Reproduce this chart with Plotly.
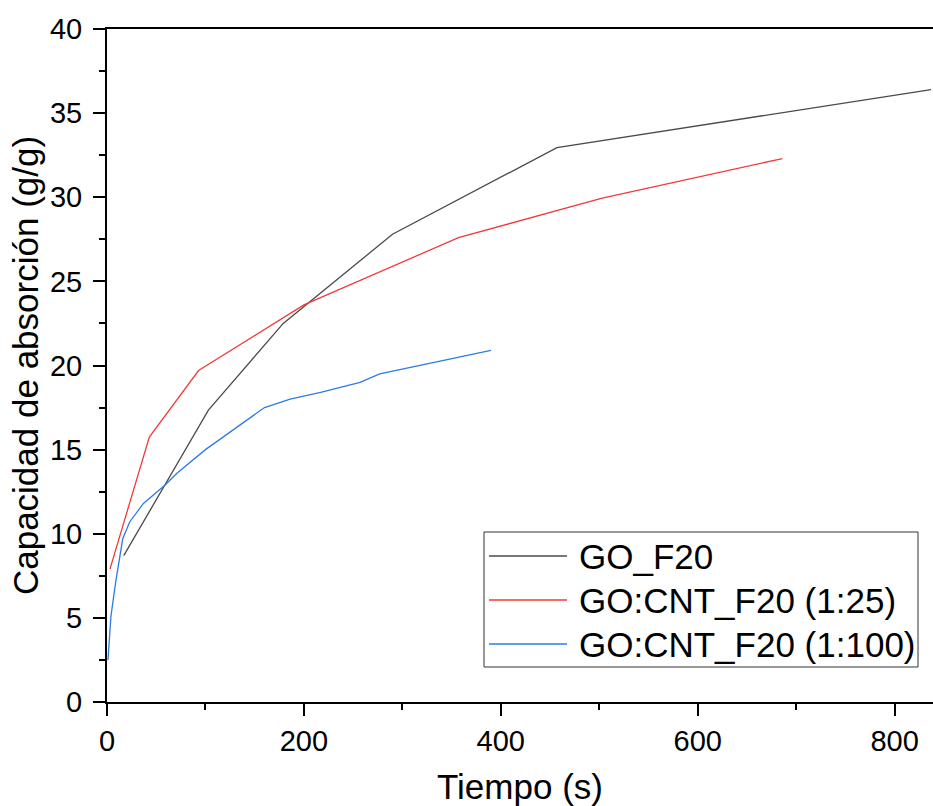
import plotly.graph_objects as go

# Data
go_f20_t = [17, 103, 179, 290, 457, 837]
go_f20_q = [8.7, 17.35, 22.5, 27.8, 32.95, 36.4]

cnt25_t = [3, 43, 93, 200, 357, 503, 686]
cnt25_q = [7.9, 15.75, 19.7, 23.6, 27.6, 29.95, 32.3]

cnt100_t = [1, 4, 9, 16, 23, 37, 59, 71, 100, 160, 186, 217, 257, 277, 390]
cnt100_q = [2.5, 5.1, 7.2, 9.7, 10.7, 11.8, 12.9, 13.6, 15.0, 17.5, 18.0, 18.4, 19.0, 19.5, 20.9]

names = ["GO_F20", "GO:CNT_F20 (1:25)", "GO:CNT_F20 (1:100)"]
colors = ["#4a4a4a", "#f23a3a", "#2f7be6"]
series = [(go_f20_t, go_f20_q), (cnt25_t, cnt25_q), (cnt100_t, cnt100_q)]

W, H = 933, 806
ML, MR, MT, MB = 107, 0, 29, 104
PW, PH = W - ML - MR, H - MT - MB

def px(x):
    return (x - ML) / PW

def py(y):
    return (H - MB - y) / PH

FONT = "Liberation Sans, Arial, sans-serif"

fig = go.Figure()
for (t, q), n, c in zip(series, names, colors):
    fig.add_trace(go.Scatter(x=t, y=q, mode="lines", name=n,
                             line=dict(color=c, width=1.3), showlegend=False))

# manual legend (box, line samples, labels)
shapes = [dict(type="rect", xref="paper", yref="paper",
               x0=px(484), x1=px(918), y0=py(667), y1=py(532),
               line=dict(color="#333333", width=1), fillcolor="white", layer="above")]
annotations = []
rows = [556, 600, 644]
for n, c, r in zip(names, colors, rows):
    shapes.append(dict(type="line", xref="paper", yref="paper",
                       x0=px(489), x1=px(567), y0=py(r), y1=py(r),
                       line=dict(color=c, width=1.3), layer="above"))
    annotations.append(dict(xref="paper", yref="paper", x=px(577), y=py(r),
                            xanchor="left", yanchor="middle", showarrow=False,
                            text=n, font=dict(family=FONT, size=35, color="black")))

fig.update_layout(
    width=W, height=H,
    margin=dict(l=ML, r=MR, t=MT, b=MB),
    paper_bgcolor="white", plot_bgcolor="white",
    font=dict(family=FONT, color="black"),
    shapes=shapes, annotations=annotations,
    xaxis=dict(range=[0, 839], dtick=200, tick0=0, showgrid=False, zeroline=False,
               showline=True, linecolor="black", linewidth=2, mirror=True,
               ticks="outside", ticklen=12, tickwidth=2, tickcolor="black",
               minor=dict(dtick=100, ticks="outside", ticklen=6, tickwidth=2, tickcolor="black"),
               tickfont=dict(size=29), ticklabelstandoff=0,
               title=dict(text="Tiempo (s)", font=dict(size=35), standoff=26)),
    yaxis=dict(range=[0, 40], dtick=5, tick0=0, showgrid=False, zeroline=False,
               showline=True, linecolor="black", linewidth=2, mirror=False,
               ticks="outside", ticklen=12, tickwidth=2, tickcolor="black",
               minor=dict(dtick=2.5, ticks="outside", ticklen=6, tickwidth=2, tickcolor="black"),
               tickfont=dict(size=29), ticklabelstandoff=5,
               title=dict(text="Capacidad de absorción (g/g)", font=dict(size=35), standoff=1)),
)

fig.write_html("out.html")
